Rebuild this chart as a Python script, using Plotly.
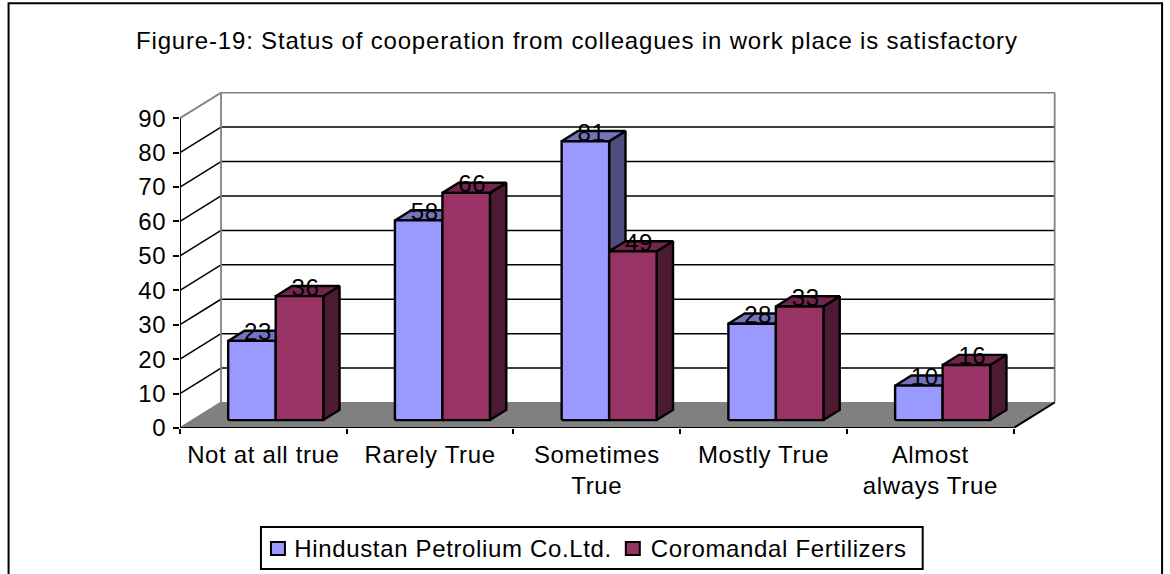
"""Clustered 3-D look column chart: cooperation from colleagues."""

import plotly.graph_objects as go

TITLE = "Figure-19: Status of cooperation from colleagues in work place is satisfactory"
CATEGORIES = [
    "Not at all true",
    "Rarely True",
    "Sometimes<br>True",
    "Mostly True",
    "Almost<br>always True",
]
HINDUSTAN_NAME = "Hindustan Petrolium Co.Ltd."
COROMANDAL_NAME = "Coromandal Fertilizers"
HINDUSTAN_VALUES = [23, 58, 81, 28, 10]
COROMANDAL_VALUES = [36, 66, 49, 33, 16]
Y_TICKS = [0, 10, 20, 30, 40, 50, 60, 70, 80, 90]

# pixel frame of the front plane of the chart
WIDTH, HEIGHT = 1170, 574
LEFT, BOTTOM = 180, 428
PX_PER_CATEGORY = 166.8
PX_PER_UNIT = 3.444

# oblique projection, in axis units
WALL_DX, WALL_DY = 0.246, 7.4
BAR_DX, BAR_DY = 0.098, 2.95
BAR_SHIFT = 0.074
BASE = 2.3
BAR_WIDTH = 0.285
X_MAX, Y_MAX = 5.26, 97.6

FONT = "Liberation Sans, Arial, sans-serif"
FONT_SIZE = 24
GRAY = "#808080"
INK = "#000000"

# the reference text is wider than the font; no plotly option for tracking
STRETCH_TEXT = """
document.body.style.margin = '0';
document.querySelectorAll('svg text').forEach(function (node) {
  node.style.letterSpacing = node.textContent.length > 40 ? '0.82px' : '0.65px';
});
"""


def polygons(faces):
    xs, ys = [], []
    for face in faces:
        xs += [p[0] for p in face] + [face[0][0], None]
        ys += [p[1] for p in face] + [face[0][1], None]
    return xs, ys


def add_poly(fig, faces, fill, line=INK, width=2.4):
    xs, ys = polygons(faces)
    fig.add_trace(
        go.Scatter(
            x=xs,
            y=ys,
            mode="lines",
            fill="toself",
            fillcolor=fill,
            line={"color": line, "width": width},
            hoverinfo="skip",
            showlegend=False,
            cliponaxis=False,
        )
    )


def add_lines(fig, segments, color, width):
    xs, ys = [], []
    for (x0, y0), (x1, y1) in segments:
        xs += [x0, x1, None]
        ys += [y0, y1, None]
    fig.add_trace(
        go.Scatter(
            x=xs,
            y=ys,
            mode="lines",
            line={"color": color, "width": width},
            hoverinfo="skip",
            showlegend=False,
            cliponaxis=False,
        )
    )


def add_series(fig, values, start_offset, front, top, side):
    fronts, tops, sides = [], [], []
    for index, value in enumerate(values):
        x0 = index + 0.5 + BAR_SHIFT + start_offset
        x1 = x0 + BAR_WIDTH
        y0, y1 = BASE, BASE + value
        fronts.append([(x0, y0), (x1, y0), (x1, y1), (x0, y1)])
        tops.append([(x0, y1), (x1, y1), (x1 + BAR_DX, y1 + BAR_DY), (x0 + BAR_DX, y1 + BAR_DY)])
        sides.append([(x1, y0), (x1 + BAR_DX, y0 + BAR_DY), (x1 + BAR_DX, y1 + BAR_DY), (x1, y1)])
    add_poly(fig, sides, side)
    add_poly(fig, tops, top)
    add_poly(fig, fronts, front)


def add_labels(fig, values, start_offset):
    fig.add_trace(
        go.Scatter(
            x=[i + 0.5 + BAR_SHIFT + start_offset + BAR_WIDTH / 2 + 0.036 for i in range(len(values))],
            y=[BASE + value + 1.9 for value in values],
            mode="text",
            text=[str(value) for value in values],
            textposition="middle center",
            textfont={"family": FONT, "size": FONT_SIZE, "color": INK},
            hoverinfo="skip",
            showlegend=False,
            cliponaxis=False,
        )
    )


def paper_x(px):
    return (px - LEFT) / (X_MAX * PX_PER_CATEGORY)


def paper_y(px):
    return (BOTTOM - px) / (Y_MAX * PX_PER_UNIT)


def legend_parts():
    shapes = [
        {"x0": 261, "x1": 923, "y0": 527, "y1": 569, "fill": "#FFFFFF"},
        {"x0": 271, "x1": 285, "y0": 542, "y1": 555, "fill": "#9999FF"},
        {"x0": 626, "x1": 640, "y0": 542, "y1": 555, "fill": "#993366"},
    ]
    return [
        {
            "type": "rect",
            "xref": "paper",
            "yref": "paper",
            "x0": paper_x(s["x0"]),
            "x1": paper_x(s["x1"]),
            "y0": paper_y(s["y0"]),
            "y1": paper_y(s["y1"]),
            "fillcolor": s["fill"],
            "line": {"color": INK, "width": 2},
        }
        for s in shapes
    ]


figure = go.Figure()

# floor, side wall and back wall
floor = [(0, 0), (5, 0), (5 + WALL_DX, WALL_DY), (WALL_DX, WALL_DY)]
add_poly(figure, [floor], GRAY, line=GRAY, width=1)
add_lines(
    figure,
    [((WALL_DX, tick + WALL_DY), (5 + WALL_DX, tick + WALL_DY)) for tick in Y_TICKS[1:-1]]
    + [((0, tick), (WALL_DX, tick + WALL_DY)) for tick in Y_TICKS[1:-1]],
    INK,
    1.5,
)
add_lines(
    figure,
    [
        ((0, 0), (WALL_DX, WALL_DY)),
        ((0, Y_TICKS[-1]), (WALL_DX, Y_TICKS[-1] + WALL_DY)),
        ((WALL_DX, Y_TICKS[-1] + WALL_DY), (5 + WALL_DX, Y_TICKS[-1] + WALL_DY)),
        ((WALL_DX, WALL_DY), (WALL_DX, Y_TICKS[-1] + WALL_DY)),
        ((5 + WALL_DX, WALL_DY), (5 + WALL_DX, Y_TICKS[-1] + WALL_DY)),
    ],
    GRAY,
    1.8,
)
# axis lines
add_lines(
    figure,
    [((0, 0), (0, Y_TICKS[-1])), ((0, 0), (5, 0)), ((5, 0), (5 + WALL_DX, WALL_DY))],
    INK,
    2,
)

add_series(figure, HINDUSTAN_VALUES, -BAR_WIDTH, "#9999FF", "#7373BF", "#4D4D80")
add_series(figure, COROMANDAL_VALUES, 0, "#993366", "#73264D", "#4D1A33")
add_labels(figure, HINDUSTAN_VALUES, -BAR_WIDTH)
add_labels(figure, COROMANDAL_VALUES, 0)

frame = {
    "type": "rect",
    "xref": "paper",
    "yref": "paper",
    "x0": paper_x(8.5),
    "x1": paper_x(1162.5),
    "y0": paper_y(620),
    "y1": paper_y(3),
    "line": {"color": INK, "width": 2},
    "layer": "below",
}

annotations = [
    {"text": TITLE, "x": paper_x(577), "y": paper_y(40)},
    {"text": HINDUSTAN_NAME, "x": paper_x(453), "y": paper_y(549)},
    {"text": COROMANDAL_NAME, "x": paper_x(779), "y": paper_y(549)},
]

figure.update_layout(
    width=WIDTH,
    height=HEIGHT,
    paper_bgcolor="#FFFFFF",
    plot_bgcolor="#FFFFFF",
    showlegend=False,
    font={"family": FONT, "size": FONT_SIZE, "color": INK},
    margin={
        "l": LEFT,
        "r": WIDTH - LEFT - X_MAX * PX_PER_CATEGORY,
        "t": BOTTOM - Y_MAX * PX_PER_UNIT,
        "b": HEIGHT - BOTTOM,
        "autoexpand": False,
    },
    shapes=[frame] + legend_parts(),
    annotations=[
        {
            "text": a["text"],
            "xref": "paper",
            "yref": "paper",
            "x": a["x"],
            "y": a["y"],
            "xanchor": "center",
            "yanchor": "middle",
            "showarrow": False,
            "font": {"family": FONT, "size": FONT_SIZE, "color": INK},
        }
        for a in annotations
    ],
)
figure.update_xaxes(
    range=[0, X_MAX],
    tickmode="array",
    tickvals=[i + 0.5 for i in range(len(CATEGORIES))],
    ticktext=CATEGORIES,
    ticks="",
    ticklabelstandoff=10,
    showgrid=False,
    zeroline=False,
    showline=False,
    minor={
        "tickmode": "array",
        "tickvals": list(range(len(CATEGORIES) + 1)),
        "ticks": "outside",
        "ticklen": 5,
        "tickwidth": 1.5,
        "tickcolor": INK,
        "showgrid": False,
    },
)
figure.update_yaxes(
    range=[0, Y_MAX],
    tickmode="array",
    tickvals=Y_TICKS,
    ticks="outside",
    ticklen=6,
    tickwidth=1.5,
    tickcolor=INK,
    ticklabelstandoff=2,
    showgrid=False,
    zeroline=False,
    showline=False,
)

figure.write_html(
    "out.html",
    config={"displayModeBar": False},
    post_script=STRETCH_TEXT,
)
